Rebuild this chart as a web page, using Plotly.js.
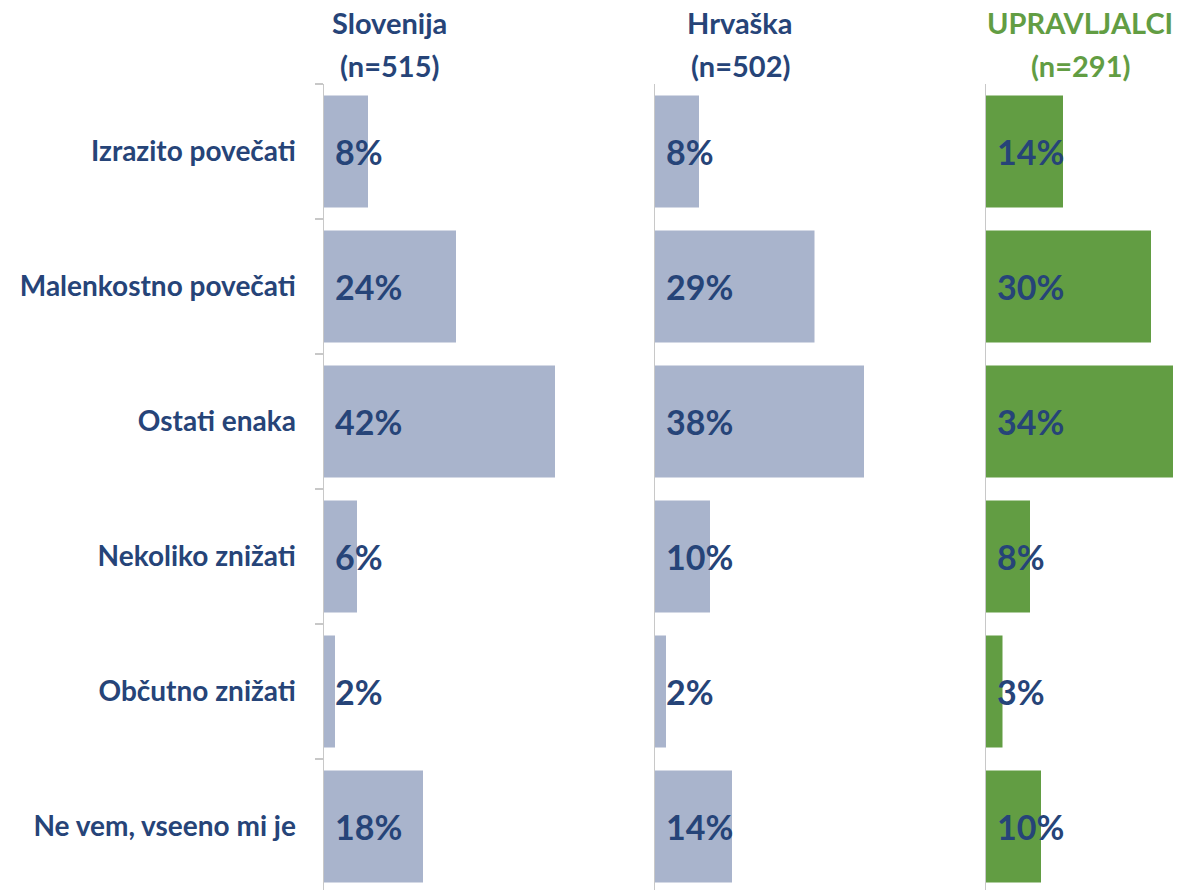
<!DOCTYPE html>
<html>
<head>
<meta charset="utf-8">
<script src="https://cdn.plot.ly/plotly-3.0.1.min.js"></script>
<style>html,body{margin:0;padding:0;background:#fff}#chart{width:1180px;height:890px}</style>
</head>
<body>
<div id="chart"></div>
<script>
const categories = ["Izrazito povečati","Malenkostno povečati","Ostati enaka","Nekoliko znižati","Občutno znižati","Ne vem, vseeno mi je"];
const slovenija = [8,24,42,6,2,18];
const hrvaska = [8,29,38,10,2,14];
const upravljalci = [14,30,34,8,3,10];
const panelTitles = ["Slovenija","Hrvaška","UPRAVLJALCI"];
const panelN = ["(n=515)","(n=502)","(n=291)"];

const BLUE = "#A9B4CC";
const GREEN = "#629D43";
const DARK = "#264478";
const FONT = "Lato, 'Open Sans', sans-serif";

const W = 1180, H = 890, TOP = 84;
const PXPCT = 5.5;
const panels = [
  {vals: slovenija, color: BLUE, x0: 324, x1: 654, tcolor: DARK, tx: 389},
  {vals: hrvaska, color: BLUE, x0: 655, x1: 985, tcolor: DARK, tx: 740},
  {vals: upravljalci, color: GREEN, x0: 986, x1: 1180, tcolor: GREEN, tx: 1080}
];

const traces = [];
const annotations = [];
const layout = {
  width: W, height: H,
  margin: {l: 0, r: 0, t: TOP, b: 0, pad: 0},
  paper_bgcolor: "#fff", plot_bgcolor: "rgba(0,0,0,0)",
  showlegend: false,
  bargap: 0.17,
  font: {family: FONT, color: DARK},
  annotations: annotations
};
const plotH = H - TOP;
const yRange = [5.5 - (810 - plotH) / 135, -0.5];

panels.forEach((p, i) => {
  const sx = i === 0 ? "" : String(i + 1);
  traces.push({
    type: "bar", orientation: "h",
    y: categories, x: p.vals,
    xaxis: "x" + sx, yaxis: "y" + sx,
    marker: {color: p.color, line: {width: 0}},
    hoverinfo: "skip"
  });
  layout["xaxis" + sx] = {
    domain: [p.x0 / W, p.x1 / W],
    range: [0, (p.x1 - p.x0) / PXPCT],
    anchor: "y" + sx,
    showgrid: false, zeroline: false, showticklabels: false, showline: false, ticks: ""
  };
  const ya = {
    type: "category",
    categoryorder: "array", categoryarray: categories,
    range: yRange,
    anchor: "x" + sx,
    showgrid: false, zeroline: false,
    showline: true, linecolor: "#C8C8C8", linewidth: 1.5
  };
  if (i === 0) {
    Object.assign(ya, {
      tickson: "boundaries", ticks: "outside", ticklen: 8, tickcolor: "#C8C8C8", tickwidth: 1.5,
      ticklabelstandoff: 21,
      tickfont: {family: FONT, size: 28, color: DARK, weight: "bold"}
    });
  } else {
    Object.assign(ya, {matches: "y", showticklabels: false, ticks: ""});
  }
  layout["yaxis" + sx] = ya;

  p.vals.forEach((v, k) => {
    annotations.push({
      xref: "x" + sx, yref: "y" + sx,
      x: 0, y: categories[k],
      xanchor: "left", yanchor: "middle",
      xshift: 9, showarrow: false,
      text: v + "%",
      font: {family: FONT, size: 34, color: DARK, weight: "bold"}
    });
  });
  annotations.push({
    xref: "paper", yref: "paper",
    x: p.tx / W, y: (H - 23) / plotH,
    xanchor: "center", yanchor: "middle", showarrow: false,
    text: panelTitles[i],
    font: {family: FONT, size: 29, color: p.tcolor, weight: "bold"}
  });
  annotations.push({
    xref: "paper", yref: "paper",
    x: p.tx / W, y: (H - 66) / plotH,
    xanchor: "center", yanchor: "middle", showarrow: false,
    text: panelN[i],
    font: {family: FONT, size: 29, color: p.tcolor, weight: "bold"}
  });
});

Plotly.newPlot("chart", traces, layout, {staticPlot: true, displayModeBar: false});
</script>
</body>
</html>
